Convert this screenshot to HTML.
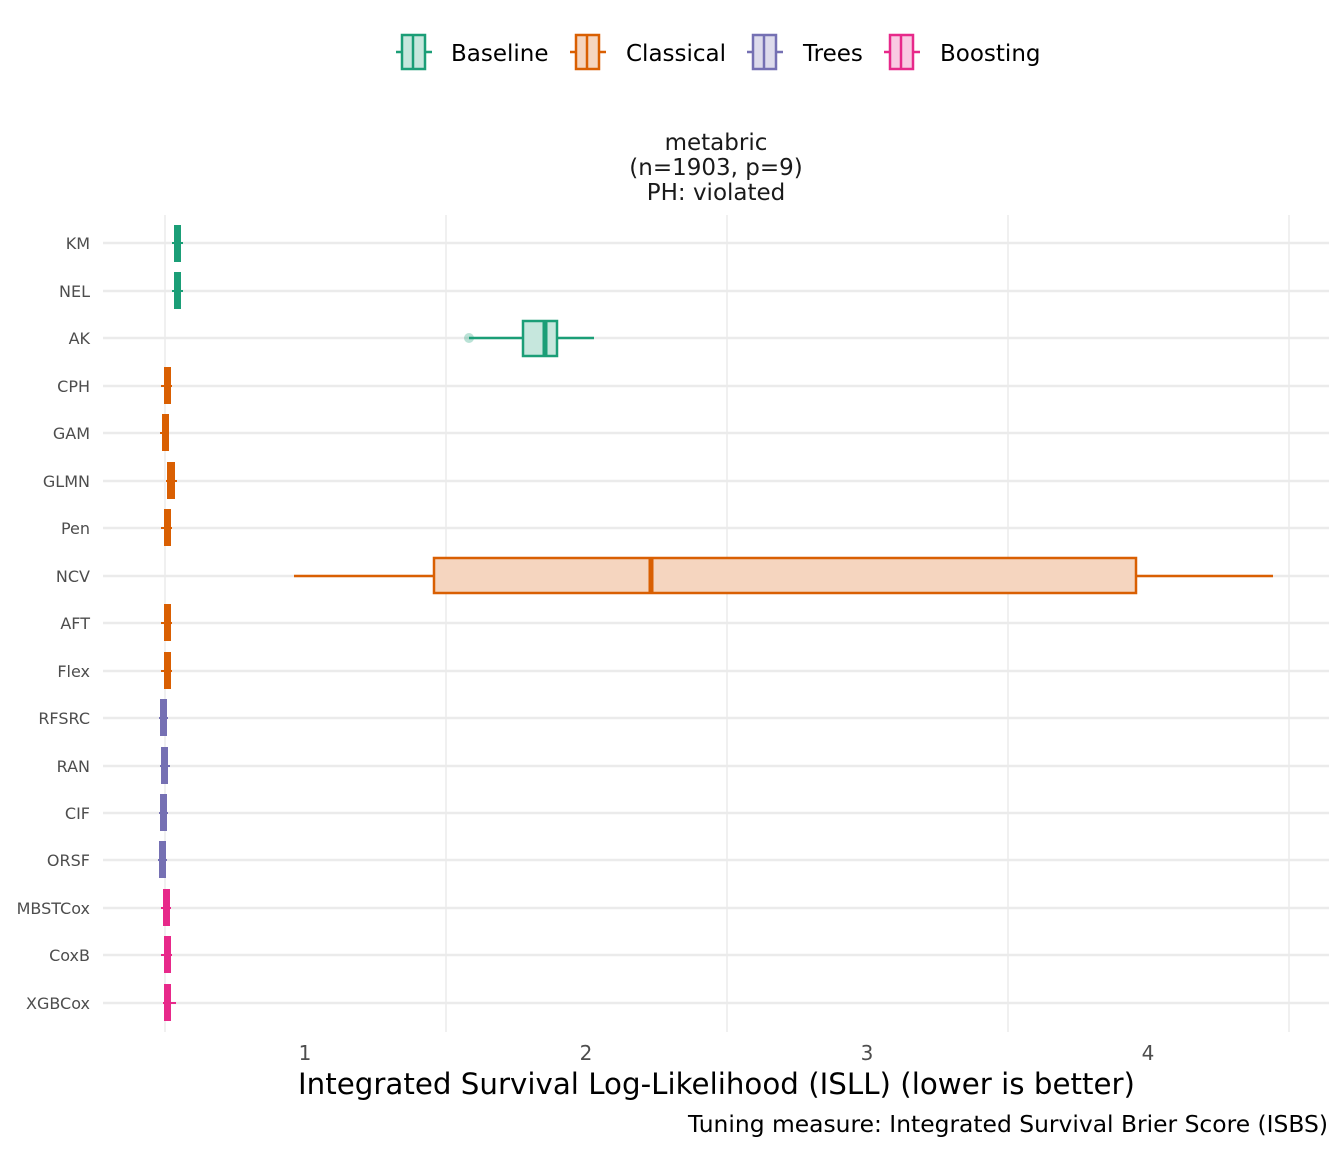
<!DOCTYPE html>
<html><head><meta charset="utf-8"><style>body{margin:0;background:#fff}svg{display:block}text{font-family:"DejaVu Sans","Liberation Sans",sans-serif}</style></head>
<body>
<svg width="1344" height="1152" xmlns="http://www.w3.org/2000/svg">
<rect width="1344" height="1152" fill="#fff"/>
<g stroke="#ebebeb" stroke-width="1.5">
<line x1="165" y1="215" x2="165" y2="1032"/>
<line x1="446" y1="215" x2="446" y2="1032"/>
<line x1="727" y1="215" x2="727" y2="1032"/>
<line x1="1008" y1="215" x2="1008" y2="1032"/>
<line x1="1289" y1="215" x2="1289" y2="1032"/>
</g>
<g stroke="#ebebeb" stroke-width="2.5">
<line x1="103" x2="1329" y1="243" y2="243"/><line x1="103" x2="1329" y1="291" y2="291"/><line x1="103" x2="1329" y1="338" y2="338"/><line x1="103" x2="1329" y1="386" y2="386"/><line x1="103" x2="1329" y1="433" y2="433"/><line x1="103" x2="1329" y1="481" y2="481"/><line x1="103" x2="1329" y1="528" y2="528"/><line x1="103" x2="1329" y1="576" y2="576"/><line x1="103" x2="1329" y1="623" y2="623"/><line x1="103" x2="1329" y1="671" y2="671"/><line x1="103" x2="1329" y1="718" y2="718"/><line x1="103" x2="1329" y1="766" y2="766"/><line x1="103" x2="1329" y1="813" y2="813"/><line x1="103" x2="1329" y1="860" y2="860"/><line x1="103" x2="1329" y1="908" y2="908"/><line x1="103" x2="1329" y1="955" y2="955"/><line x1="103" x2="1329" y1="1003" y2="1003"/>
</g>
<g>
<line x1="172" x2="183" y1="243" y2="243" stroke="#1b9e77" stroke-width="2"/><rect x="174" y="225" width="7" height="37" fill="#1b9e77"/>
<line x1="172" x2="183" y1="291" y2="291" stroke="#1b9e77" stroke-width="2"/><rect x="174" y="272" width="7" height="37" fill="#1b9e77"/>
<line x1="161" x2="172" y1="386" y2="386" stroke="#d95f02" stroke-width="2"/><rect x="164" y="367" width="7" height="37" fill="#d95f02"/>
<line x1="160" x2="169" y1="433" y2="433" stroke="#d95f02" stroke-width="2"/><rect x="162" y="414" width="7" height="37" fill="#d95f02"/>
<line x1="166" x2="177" y1="481" y2="481" stroke="#d95f02" stroke-width="2"/><rect x="167" y="462" width="8" height="37" fill="#d95f02"/>
<line x1="161" x2="172" y1="528" y2="528" stroke="#d95f02" stroke-width="2"/><rect x="164" y="509" width="7" height="37" fill="#d95f02"/>
<line x1="161" x2="172" y1="623" y2="623" stroke="#d95f02" stroke-width="2"/><rect x="164" y="604" width="7" height="37" fill="#d95f02"/>
<line x1="161" x2="172" y1="671" y2="671" stroke="#d95f02" stroke-width="2"/><rect x="164" y="652" width="7" height="37" fill="#d95f02"/>
<line x1="159" x2="168" y1="718" y2="718" stroke="#7570b3" stroke-width="2"/><rect x="160" y="699" width="7" height="37" fill="#7570b3"/>
<line x1="160" x2="170" y1="766" y2="766" stroke="#7570b3" stroke-width="2"/><rect x="161" y="747" width="7" height="37" fill="#7570b3"/>
<line x1="159" x2="168" y1="813" y2="813" stroke="#7570b3" stroke-width="2"/><rect x="160" y="794" width="7" height="37" fill="#7570b3"/>
<line x1="158" x2="167" y1="860" y2="860" stroke="#7570b3" stroke-width="2"/><rect x="159" y="841" width="7" height="37" fill="#7570b3"/>
<line x1="161" x2="171" y1="908" y2="908" stroke="#e7298a" stroke-width="2"/><rect x="163" y="889" width="7" height="37" fill="#e7298a"/>
<line x1="161" x2="172" y1="955" y2="955" stroke="#e7298a" stroke-width="2"/><rect x="164" y="936" width="7" height="37" fill="#e7298a"/>
<line x1="163" x2="176" y1="1003" y2="1003" stroke="#e7298a" stroke-width="2"/><rect x="164" y="984" width="7" height="37" fill="#e7298a"/>
</g>
<line x1="469" x2="594" y1="338" y2="338" stroke="#1b9e77" stroke-width="2.5"/>
<rect x="523" y="321" width="34" height="35" fill="#c6e7dd" stroke="#1b9e77" stroke-width="2.5"/>
<line x1="545" x2="545" y1="321" y2="356" stroke="#1b9e77" stroke-width="5"/>
<circle cx="469" cy="338" r="5" fill="#1b9e77" opacity="0.3"/>
<line x1="294" x2="1273" y1="576" y2="576" stroke="#d95f02" stroke-width="2.5"/>
<rect x="434" y="558" width="702" height="35" fill="#f5d5bf" stroke="#d95f02" stroke-width="2.5"/>
<line x1="651" x2="651" y1="558" y2="593" stroke="#d95f02" stroke-width="5"/>
<g font-size="16" fill="#4d4d4d" text-anchor="end">
<text x="90" y="249">KM</text><text x="90" y="297">NEL</text><text x="90" y="344">AK</text><text x="90" y="392">CPH</text><text x="90" y="439">GAM</text><text x="90" y="487">GLMN</text><text x="90" y="534">Pen</text><text x="90" y="582">NCV</text><text x="90" y="629">AFT</text><text x="90" y="677">Flex</text><text x="90" y="724">RFSRC</text><text x="90" y="772">RAN</text><text x="90" y="819">CIF</text><text x="90" y="866">ORSF</text><text x="90" y="914">MBSTCox</text><text x="90" y="961">CoxB</text><text x="90" y="1009">XGBCox</text>
</g>
<g font-size="20" fill="#4d4d4d" text-anchor="middle">
<text x="305" y="1060">1</text><text x="586" y="1060">2</text><text x="867" y="1060">3</text><text x="1148" y="1060">4</text>
</g>
<text x="298" y="1094" font-size="29" fill="#000" textLength="837" lengthAdjust="spacingAndGlyphs">Integrated Survival Log-Likelihood (ISLL) (lower is better)</text>
<text x="688" y="1132" font-size="23" fill="#000" textLength="640" lengthAdjust="spacingAndGlyphs">Tuning measure: Integrated Survival Brier Score (ISBS)</text>
<g font-size="23" fill="#1a1a1a" text-anchor="middle">
<text x="716" y="150">metabric</text><text x="716" y="175">(n=1903, p=9)</text><text x="716" y="200">PH: violated</text>
</g>
<g stroke-width="2.5">
<line x1="396" x2="432" y1="52" y2="52" stroke="#1b9e77"/><rect x="402" y="35" width="23" height="34" fill="#c6e7dd" stroke="#1b9e77"/><line x1="413" x2="413" y1="35" y2="69" stroke="#1b9e77"/>
<line x1="570" x2="606" y1="52" y2="52" stroke="#d95f02"/><rect x="576" y="35" width="23" height="34" fill="#f5d5bf" stroke="#d95f02"/><line x1="587" x2="587" y1="35" y2="69" stroke="#d95f02"/>
<line x1="747" x2="783" y1="52" y2="52" stroke="#7570b3"/><rect x="753" y="35" width="23" height="34" fill="#dddbec" stroke="#7570b3"/><line x1="764" x2="764" y1="35" y2="69" stroke="#7570b3"/>
<line x1="884" x2="920" y1="52" y2="52" stroke="#e7298a"/><rect x="890" y="35" width="23" height="34" fill="#f9c9e2" stroke="#e7298a"/><line x1="901" x2="901" y1="35" y2="69" stroke="#e7298a"/>
</g>
<g font-size="23" fill="#000">
<text x="451" y="61">Baseline</text><text x="626" y="61">Classical</text><text x="803" y="61">Trees</text><text x="940" y="61">Boosting</text>
</g>
</svg>
</body></html>
